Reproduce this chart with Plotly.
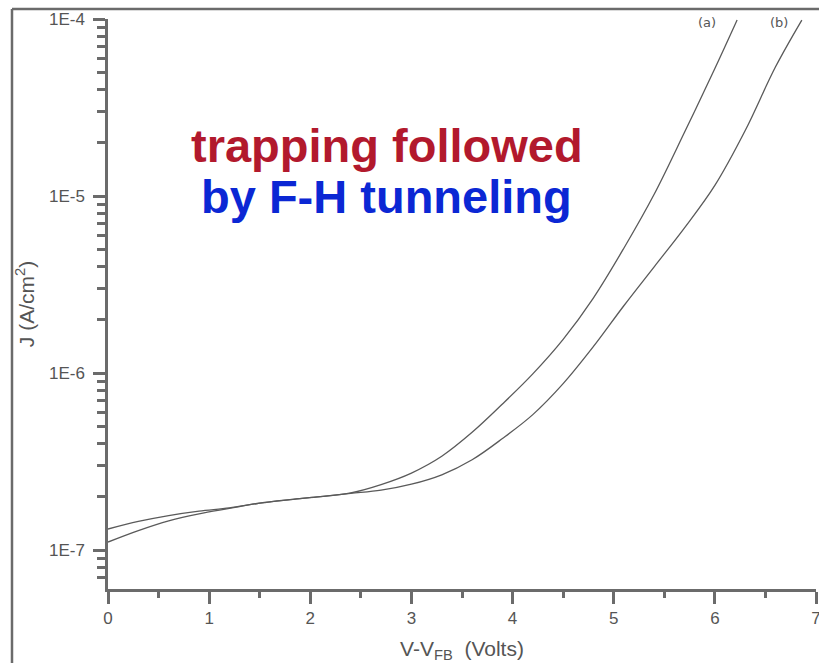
import plotly.graph_objects as go

# Current density vs. V - V_FB for the two samples
v_a = [0.0, 0.3, 0.6, 0.9, 1.2, 1.5, 1.8, 2.1, 2.4, 2.7, 3.0, 3.3, 3.6, 3.9, 4.2, 4.5, 4.8, 5.1,
       5.4, 5.7, 6.0, 6.22]
j_a = [1.11e-7, 1.288e-7, 1.462e-7, 1.603e-7, 1.718e-7, 1.841e-7, 1.928e-7, 2.004e-7, 2.104e-7,
       2.344e-7, 2.723e-7, 3.388e-7, 4.624e-7, 6.683e-7, 9.886e-7, 1.549e-6, 2.661e-6, 5.070e-6,
       1.023e-5, 2.291e-5, 5.248e-5, 9.863e-5]

v_b = [0.0, 0.3, 0.6, 0.9, 1.2, 1.5, 1.8, 2.1, 2.4, 2.7, 3.0, 3.3, 3.6, 3.9, 4.2, 4.5, 4.8, 5.1,
       5.4, 5.7, 6.0, 6.3, 6.6, 6.86]
j_b = [1.315e-7, 1.452e-7, 1.567e-7, 1.660e-7, 1.730e-7, 1.841e-7, 1.928e-7, 2.004e-7, 2.089e-7,
       2.178e-7, 2.355e-7, 2.661e-7, 3.236e-7, 4.266e-7, 5.821e-7, 8.710e-7, 1.413e-6, 2.399e-6,
       3.981e-6, 6.607e-6, 1.148e-5, 2.344e-5, 5.370e-5, 9.863e-5]

x_ticks = [0, 1, 2, 3, 4, 5, 6, 7]
x_minor = [0.5, 1.5, 2.5, 3.5, 4.5, 5.5, 6.5]
y_ticks = [1e-7, 1e-6, 1e-5, 1e-4]
y_tick_text = ["1E-7", "1E-6", "1E-5", "1E-4"]
y_minor = [m * 10.0 ** e for e in (-8, -7, -6, -5) for m in range(2, 10) if 6e-8 <= m * 10.0 ** e < 1e-4]

curve_labels = ["(a)", "(b)"]
headline = ["trapping followed", "by F-H tunneling"]

GREY = "#5a5a5a"
AXIS = "#6b6b6b"
TXT = "#555555"

fig = go.Figure()
for vx, jy in ((v_a, j_a), (v_b, j_b)):
    fig.add_trace(go.Scatter(x=vx, y=jy, mode="lines",
                             line=dict(color=GREY, width=1.3, shape="spline", smoothing=1.0),
                             showlegend=False, hoverinfo="skip"))

fig.update_layout(
    width=819, height=663,
    margin=dict(l=108, r=3, t=19, b=74),
    paper_bgcolor="white", plot_bgcolor="white",
    font=dict(family="Liberation Sans, Arial, sans-serif", color=TXT),
    xaxis=dict(range=[0, 7], tickvals=x_ticks, ticks="outside", ticklen=12, tickwidth=2.5,
               tickcolor=AXIS, showline=True, linecolor=AXIS, linewidth=2.5, showgrid=False,
               zeroline=False, tickfont=dict(size=17, color=TXT), ticklabeloverflow="allow",
               automargin=False,
               minor=dict(tickvals=x_minor, ticks="outside", ticklen=6, tickwidth=2.5, tickcolor=AXIS),
               title=dict(text="V-V<sub>FB</sub>  (Volts)", font=dict(size=21, color=TXT), standoff=16)),
    yaxis=dict(type="log", range=[-7.22, -4], tickvals=y_ticks, ticktext=y_tick_text,
               ticks="outside", ticklen=12, tickwidth=2.5, tickcolor=AXIS, showline=True,
               linecolor=AXIS, linewidth=2.5, showgrid=False, zeroline=False,
               tickfont=dict(size=17, color=TXT), ticklabelstandoff=5, automargin=False,
               minor=dict(tickvals=y_minor, ticks="outside", ticklen=8, tickwidth=2.5, tickcolor=AXIS),
               title=dict(text="J (A/cm<sup>2</sup>)", font=dict(size=21, color=TXT), standoff=9)),
)

# outer frame lines (top and left)
fig.add_shape(type="line", xref="paper", yref="paper", x0=-0.1356, x1=1.02, y0=1.0175, y1=1.0175,
              line=dict(color=AXIS, width=2.5))
fig.add_shape(type="line", xref="paper", yref="paper", x0=-0.1356, x1=-0.1356, y0=1.0175, y1=-0.2,
              line=dict(color=AXIS, width=2.5))

# curve labels
for lbl, xp in zip(curve_labels, [707, 779]):
    fig.add_annotation(text=lbl, xref="paper", yref="paper", x=(xp - 108) / 708, y=(589 - 22) / 570,
                       showarrow=False, xanchor="center", yanchor="middle",
                       font=dict(size=13, color=TXT, family="DejaVu Sans"))

# headline text
for txt, col, py in zip(headline, ["#b2192d", "#0b27d4"], [145, 197]):
    fig.add_annotation(text="<b>%s</b>" % txt, xref="paper", yref="paper",
                       x=(386.5 - 108) / 708, y=(589 - py) / 570, showarrow=False,
                       xanchor="center", yanchor="middle",
                       font=dict(size=47, color=col, family="Liberation Sans, Arial"))

fig.write_html("out.html")
